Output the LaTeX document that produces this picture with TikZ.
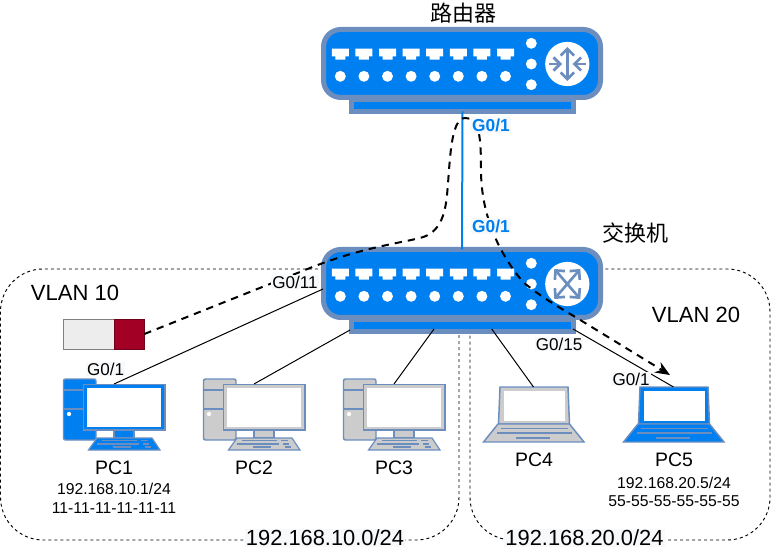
\documentclass[tikz,border=0pt]{standalone}
\usepackage{fontspec}
\setmainfont{Liberation Sans}
\newfontfamily\cjk{Noto Sans CJK SC}
\usetikzlibrary{arrows.meta}
\usetikzlibrary{positioning}
\definecolor{devline}{HTML}{6C8EBF}
\definecolor{devblue}{HTML}{007FF0}
\definecolor{devgrey}{HTML}{CCCCCC}
\definecolor{linkblue}{HTML}{007FEF}
\definecolor{labelbg}{HTML}{F8F9FA}
\definecolor{tagred}{HTML}{A20025}
\tikzset{
  devbody/.style={draw=devline,fill=devblue,line width=3.75pt,rounded corners=13pt,inner sep=0pt,outer sep=0pt},
  devbase/.style={draw=devline,fill=devblue,line width=3.75pt,inner sep=0pt,outer sep=0pt},
  region/.style={draw=black,line width=.7pt,dash pattern=on 2.25pt off 2.25pt,rounded corners=32pt},
  cable/.style={draw=black,line width=.75pt},
  tagflow/.style={draw=black,line width=1.5pt,dash pattern=on 5.5pt off 4.5pt,-{Stealth[length=11pt,width=9pt]}},
  pcbox/.style={inner sep=0pt,outer sep=0pt,minimum width=76.5pt,minimum height=49.5pt},
  lapbox/.style={inner sep=0pt,outer sep=0pt,minimum width=75.75pt,minimum height=41.25pt},
  barb/.style={-{Straight Barb[length=5pt,width=10pt]}},
  title/.style={font=\cjk\fontsize{16.5pt}{18pt}\selectfont,inner sep=0pt},
  pcname/.style={font=\fontsize{14.6pt}{16pt}\selectfont,inner sep=0pt},
  addr/.style={font=\fontsize{11.8pt}{14pt}\selectfont,align=center,inner sep=0pt},
  vlanname/.style={font=\fontsize{16.5pt}{18pt}\selectfont,inner sep=0pt},
  netname/.style={font=\fontsize{16.4pt}{18pt}\selectfont,fill=labelbg,inner sep=.8pt},
  portname/.style={font=\fontsize{12.8pt}{14pt}\selectfont,fill=labelbg,inner sep=.8pt},
  linkname/.style={font=\bfseries\fontsize{13pt}{14pt}\selectfont,text=linkblue,fill=labelbg,inner sep=.8pt},
}
\newcommand{\devports}[1]{
  \begin{scope}[shift={(0,#1)}]
    \foreach \portx in {340.3,363.9,387.5,411.1,434.7,458.3,481.9,505.5}{
      \fill[white] (\portx-8.5,48.7) -- (\portx+8.5,48.7) -- (\portx+8.5,56.5) -- (\portx+5,56.5)
        -- (\portx+5,59.7) -- (\portx-5,59.7) -- (\portx-5,56.5) -- (\portx-8.5,56.5) -- cycle;
      \fill[white] (\portx,76.3) circle (4.1pt);
    }
    \foreach \doty in {43.3,64,84.7}{
      \fill[white] (531.3,\doty) circle (4.1pt);
    }
    \fill[white] (567.3,64) circle (16.6pt);
  \end{scope}
}
\newcommand{\pcicon}[3]{
  \node[pcbox] (#1) at (#2,417) {};
  \begin{scope}[shift={(#2-114,0)}]
    \draw[devline,fill=#3,line width=1.1pt,rounded corners=1.5pt] (63.5,379) rectangle (96,440);
    \draw[devline,line width=1.1pt] (63.5,390) -- (83,390) (63.5,409) -- (83,409);
    \fill[white] (69,414) circle (1.6pt);
    \draw[devline,fill=#3,line width=.9pt] (114,430) rectangle (134,438);
    \draw[devline,fill=#3,line width=1.1pt] (83.5,384.5) rectangle (165,430);
    \fill[white] (87,387.5) rectangle (161,426.5);
    \draw[devline,fill=#3,line width=.9pt] (97,438) -- (152,438) -- (160,450) -- (88.5,450) -- cycle;
    \draw[devline,line width=.9pt] (101.7,440.7) -- (137,440.7) (141,440.7) -- (148,440.7)
      (97,444) -- (139,444) (143,444) -- (149,444) (113,447) -- (131,447) (145,447) -- (151,447);
  \end{scope}
}
\newcommand{\lapicon}[3]{
  \node[lapbox] (#1) at (#2,414.5) {};
  \begin{scope}[shift={(#2-533.5,0)}]
    \draw[devline,fill=#3,line width=1.1pt] (500,387) -- (568,387) -- (569.5,424) -- (498.5,424) -- cycle;
    \fill[white] (503.5,390.5) rectangle (565,420.5);
    \draw[devline,fill=#3,line width=1.1pt] (498,424) -- (569.5,424) -- (584,442) -- (483.5,442) -- cycle;
    \draw[devline,line width=.9pt] (501,428.5) -- (568,428.5) (497,433) -- (572,433) (516,438) -- (550,438);
  \end{scope}
}
\begin{document}
\begin{tikzpicture}[x=.75pt,y=-.75pt]
  \useasboundingbox (0,0) rectangle (771,552);
  \draw[region] (.5,269) rectangle (459,540);
  \draw[region] (470,269) rectangle (770,540);

  \node[devbase,minimum width=166.5pt,minimum height=9pt] (routerbase) at (462.5,105.5) {};
  \node[devbody,minimum width=207.75pt,minimum height=51pt] (router) at (462,63.5) {};
  \devports{0}
  \node[devbase,minimum width=166.5pt,minimum height=9pt] (switchbase) at (462.5,325.5) {};
  \node[devbody,minimum width=207.75pt,minimum height=51pt] (switch) at (462,283.5) {};
  \devports{220}
  \begin{scope}[devline,line width=2pt]
    \draw[barb] (567.3,64) -- (567.3,47);
    \draw[barb] (567.3,64) -- (567.3,81);
    \draw[barb] (549,64) -- (562,64);
    \draw[barb] (585.5,64) -- (572.5,64);
    \foreach \tipx/\tipy in {-13/-15,13/-15,-13/15,13/15}{
      \draw[barb] (567.3,284) -- ++(\tipx,\tipy);
    }
  \end{scope}

  \pcicon{pc1}{114}{devblue}
  \pcicon{pc2}{254}{devgrey}
  \pcicon{pc3}{394}{devgrey}
  \lapicon{pc4}{533.5}{devgrey}
  \lapicon{pc5}{673.5}{devblue}

  \node[draw=gray,fill=black!7,line width=.6pt,minimum width=38pt,minimum height=22.5pt,inner sep=0pt,outer sep=0pt] (tagleft) at (89,334) {};
  \node[draw=tagred!70!black,fill=tagred,line width=.6pt,minimum width=22.5pt,minimum height=22.5pt,inner sep=0pt,outer sep=0pt,right=0pt of tagleft] (tagright) {};

  \coordinate (portpc1) at (323,289);
  \coordinate (portpc2) at (350,330);
  \coordinate (portpc3) at (434,329);
  \coordinate (portpc4) at (491.7,329);
  \coordinate (portpc5) at (573,329);
  \draw[cable] (pc1.north) -- (portpc1);
  \draw[cable] (pc2.north) -- (portpc2);
  \draw[cable] (pc3.north) -- (portpc3);
  \draw[cable] (pc4.north) -- (portpc4);
  \draw[cable] (pc5.north) -- (portpc5);
  \draw[draw=linkblue,line width=1.5pt] (routerbase.south) -- (switch.north);

  \coordinate (flowa) at (310,268);
  \coordinate (flowb) at (420,238);
  \coordinate (flowc) at (447,195);
  \coordinate (flowd) at (465,118);
  \coordinate (flowe) at (481,170);
  \coordinate (flowf) at (523,282);
  \coordinate (flowg) at (577,318);
  \coordinate (flowh) at (670,375);
  \draw[tagflow] (tagright.east) -- (flowa) .. controls (360,248) and (400,243) .. (flowb)
    .. controls (440,233) and (445,215) .. (flowc) .. controls (450,165) and (450,118) .. (flowd)
    .. controls (478,118) and (481,130) .. (flowe) .. controls (481,205) and (492,245) .. (flowf)
    .. controls (540,296) and (555,305) .. (flowg) -- (flowh);

  \node[title] (routername) at (463,13) {路由器};
  \node[title] (switchname) at (635,233) {交换机};
  \node[linkname] (linkup) at (491,125) {G0/1};
  \node[linkname] (linkdown) at (491,226) {G0/1};
  \node[portname] (portb) at (295,282) {G0/11};
  \node[portname] (portc) at (559,344) {G0/15};
  \node[portname] (porta) at (105.7,369) {G0/1};
  \node[portname] (portd) at (631,379) {G0/1};
  \node[vlanname] (vlana) at (75,293) {VLAN 10};
  \node[vlanname] (vlanb) at (696,315) {VLAN 20};
  \node[pcname] (namea) at (114,468) {PC1};
  \node[pcname] (nameb) at (254,468) {PC2};
  \node[pcname] (namec) at (394,468) {PC3};
  \node[pcname] (named) at (534,460) {PC4};
  \node[pcname] (namee) at (674,460) {PC5};
  \node[addr] (addra) at (114,498.5) {192.168.10.1/24\\11-11-11-11-11-11};
  \node[addr] (addrb) at (674,492) {192.168.20.5/24\\55-55-55-55-55-55};
  \node[netname] (neta) at (325,538) {192.168.10.0/24};
  \node[netname] (netb) at (584.5,538) {192.168.20.0/24};
\end{tikzpicture}
\end{document}
